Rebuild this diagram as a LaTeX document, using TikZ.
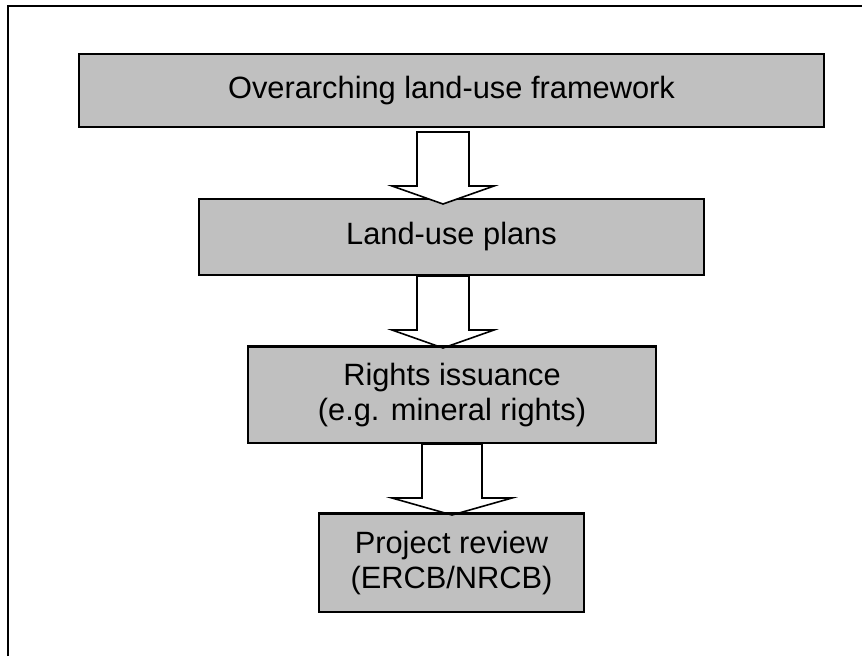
\documentclass[tikz,border=0pt]{standalone}
\usepackage{fontspec}
\setmainfont{Liberation Sans}
\usetikzlibrary{calc}
\begin{document}
\begin{tikzpicture}[x=1pt,y=-1pt,
  stagebox/.style={draw=black,line width=2pt,fill=boxgray,inner sep=0pt,
    font=\fontsize{30.8}{35}\selectfont,align=center},
  bigarrow/.style={draw=black,line width=1.6pt,fill=white,line join=miter}]
\definecolor{boxgray}{HTML}{C0C0C0}
\useasboundingbox (0,0) rectangle (862,656);
\coordinate (fbl) at (8,656);
\coordinate (ftl) at (8,6);
\coordinate (ftr) at (862,6);
\draw[line width=2pt] (fbl) -- (ftl) -- (ftr);
\node[stagebox,minimum width=745pt,minimum height=73pt] (b1) at (451.5,90.5) {Overarching land-use framework};
\node[stagebox,minimum width=505pt,minimum height=76pt] (b2) at (451.5,237) {Land-use plans};
\node[stagebox,minimum width=408pt,minimum height=96pt] (b3) at (452,395) {Rights issuance\\(e.g. mineral rights)};
\node[stagebox,minimum width=265pt,minimum height=98pt] (b4) at (451.5,563) {Project review\\(ERCB/NRCB)};
% arrow 1: b1 -> b2
\draw[bigarrow] ($(b1.south)+(-34.5,4)$) -- ++(52,0) -- ++(0,54) -- ++(25,0) -- ++(-51,18) -- ++(-51,-18) -- ++(25,0) -- cycle;
% arrow 2: b2 -> b3
\draw[bigarrow] ($(b2.south)+(-34.5,0)$) -- ++(52,0) -- ++(0,54) -- ++(25,0) -- ++(-51,18) -- ++(-51,-18) -- ++(25,0) -- cycle;
\draw[line width=2pt] (b3.north west) -- (b3.north east);
% arrow 3: b3 -> b4
\draw[bigarrow] ($(b3.south)+(-30,0)$) -- ++(60,0) -- ++(0,54) -- ++(30,0) -- ++(-60,17) -- ++(-60,-17) -- ++(30,0) -- cycle;
\draw[line width=2pt] (b4.north west) -- (b4.north east);
\end{tikzpicture}
\end{document}
